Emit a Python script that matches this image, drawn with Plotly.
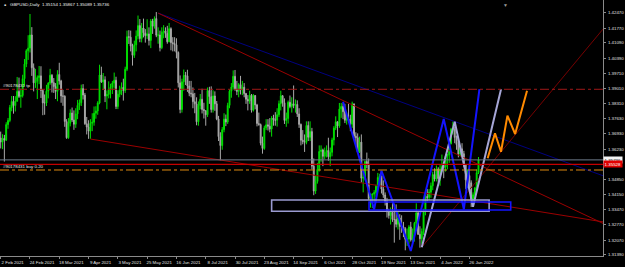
import plotly.graph_objects as go

# ---------------- data (GBPUSD daily, bar index 0 = 2 Feb 2021) ----------------
closes = [
    1.3655, 1.3672, 1.3664, 1.3735, 1.3754, 1.3813, 1.3841, 1.3822, 1.3842, 1.3887,
    1.3864, 1.3868, 1.3945, 1.4012, 1.4073, 1.4085, 1.4145, 1.3995, 1.3926, 1.3933,
    1.3950, 1.3958, 1.3891, 1.3834, 1.3834, 1.3888, 1.3925, 1.3961, 1.3927, 1.3909,
    1.3887, 1.3964, 1.3935, 1.3866, 1.3865, 1.3749, 1.3675, 1.3741, 1.3788, 1.3756,
    1.3737, 1.3784, 1.3823, 1.3835, 1.3900, 1.3870, 1.3739, 1.3724, 1.3705, 1.3741,
    1.3746, 1.3787, 1.3797, 1.3834, 1.3962, 1.3930, 1.3940, 1.3866, 1.3873, 1.3898,
    1.3906, 1.3925, 1.3938, 1.3818, 1.3874, 1.3894, 1.3905, 1.3891, 1.3988, 1.4137,
    1.4135, 1.4094, 1.4052, 1.4100, 1.4140, 1.4188, 1.4129, 1.4177, 1.4155, 1.4142,
    1.4150, 1.4120, 1.4209, 1.4185, 1.4220, 1.4144, 1.4145, 1.4087, 1.4158, 1.4163,
    1.4152, 1.4114, 1.4174, 1.4110, 1.4106, 1.4100, 1.4065, 1.3926, 1.3804, 1.3931,
    1.3960, 1.3958, 1.3912, 1.3879, 1.3876, 1.3840, 1.3830, 1.3748, 1.3823, 1.3851,
    1.3804, 1.3799, 1.3780, 1.3891, 1.3863, 1.3804, 1.3866, 1.3830, 1.3761, 1.3680,
    1.3639, 1.3712, 1.3760, 1.3747, 1.3823, 1.3888, 1.3907, 1.3956, 1.3897, 1.3887,
    1.3918, 1.3893, 1.3906, 1.3877, 1.3851, 1.3843, 1.3869, 1.3801, 1.3868, 1.3825,
    1.3740, 1.3735, 1.3650, 1.3626, 1.3720, 1.3734, 1.3728, 1.3715, 1.3765, 1.3757,
    1.3755, 1.3780, 1.3831, 1.3867, 1.3835, 1.3754, 1.3763, 1.3837, 1.3818, 1.3830,
    1.3823, 1.3827, 1.3784, 1.3736, 1.3664, 1.3658, 1.3654, 1.3731, 1.3677, 1.3703,
    1.3545, 1.3431, 1.3475, 1.3530, 1.3612, 1.3619, 1.3590, 1.3609, 1.3617, 1.3588,
    1.3608, 1.3665, 1.3719, 1.3748, 1.3729, 1.3806, 1.3818, 1.3794, 1.3755, 1.3761,
    1.3760, 1.3737, 1.3830, 1.3682, 1.3675, 1.3611, 1.3655, 1.3490, 1.3494, 1.3566,
    1.3554, 1.3397, 1.3412, 1.3418, 1.3424, 1.3453, 1.3493, 1.3500, 1.3440, 1.3413,
    1.3383, 1.3337, 1.3319, 1.3334, 1.3301, 1.3301, 1.3279, 1.3308, 1.3269, 1.3267,
    1.3259, 1.3210, 1.3212, 1.3267, 1.3208, 1.3233, 1.3284, 1.3331, 1.3233, 1.3213,
    1.3246, 1.3339, 1.3406, 1.3402, 1.3426, 1.3455, 1.3507, 1.3486, 1.3532, 1.3488,
    1.3532, 1.3544, 1.3540, 1.3590, 1.3597, 1.3647, 1.3714, 1.3714, 1.3676, 1.3644,
    1.3600, 1.3624, 1.3602, 1.3552, 1.3482, 1.3502, 1.3469, 1.3390, 1.3414, 1.3445,
    1.3515, 1.35736,
]
# each day opens at the previous day's close (last bar from the header)
opens = [1.3674] + closes[:-2] + [1.35154]
highs = [
    1.3703, 1.3691, 1.3688, 1.3746, 1.3765, 1.3825, 1.3866, 1.3866, 1.3865, 1.3953,
    1.3950, 1.3900, 1.3963, 1.4035, 1.4080, 1.4144, 1.4241, 1.4181, 1.4015, 1.3990,
    1.3960, 1.4003, 1.4002, 1.3898, 1.3873, 1.3917, 1.3929, 1.3990, 1.3966, 1.3948,
    1.3925, 1.3984, 1.4018, 1.3940, 1.3894, 1.3869, 1.3760, 1.3765, 1.3805, 1.3813,
    1.3800, 1.3810, 1.3848, 1.3850, 1.3918, 1.3920, 1.3880, 1.3770, 1.3755, 1.3760,
    1.3787, 1.3818, 1.3819, 1.3842, 1.4009, 1.4000, 1.3971, 1.3956, 1.3891, 1.3933,
    1.3922, 1.3935, 1.3973, 1.3954, 1.3892, 1.3913, 1.3928, 1.3945, 1.4000, 1.4165,
    1.4167, 1.4165, 1.4105, 1.4119, 1.4166, 1.4234, 1.4218, 1.4200, 1.4220, 1.4172,
    1.4217, 1.4180, 1.4218, 1.4219, 1.4230, 1.4250, 1.4180, 1.4165, 1.4180, 1.4190,
    1.4180, 1.4187, 1.4200, 1.4180, 1.4135, 1.4135, 1.4130, 1.4070, 1.3960, 1.3945,
    1.3987, 1.3976, 1.3986, 1.3935, 1.3935, 1.3905, 1.3880, 1.3860, 1.3841, 1.3875,
    1.3899, 1.3835, 1.3800, 1.3905, 1.3908, 1.3910, 1.3892, 1.3887, 1.3843, 1.3775,
    1.3700, 1.3724, 1.3787, 1.3781, 1.3835, 1.3896, 1.3925, 1.3983, 1.3985, 1.3935,
    1.3925, 1.3958, 1.3935, 1.3925, 1.3880, 1.3870, 1.3890, 1.3875, 1.3875, 1.3870,
    1.3830, 1.3790, 1.3740, 1.3680, 1.3730, 1.3760, 1.3760, 1.3765, 1.3774, 1.3780,
    1.3792, 1.3810, 1.3845, 1.3890, 1.3870, 1.3855, 1.3790, 1.3845, 1.3868, 1.3860,
    1.3914, 1.3850, 1.3846, 1.3810, 1.3740, 1.3710, 1.3690, 1.3750, 1.3750, 1.3750,
    1.3720, 1.3580, 1.3500, 1.3560, 1.3640, 1.3640, 1.3625, 1.3630, 1.3640, 1.3675,
    1.3630, 1.3675, 1.3728, 1.3773, 1.3750, 1.3834, 1.3834, 1.3832, 1.3830, 1.3790,
    1.3830, 1.3780, 1.3840, 1.3830, 1.3700, 1.3695, 1.3680, 1.3690, 1.3515, 1.3570,
    1.3607, 1.3580, 1.3420, 1.3420, 1.3435, 1.3460, 1.3514, 1.3510, 1.3500, 1.3480,
    1.3425, 1.3400, 1.3350, 1.3356, 1.3375, 1.3373, 1.3370, 1.3335, 1.3325, 1.3320,
    1.3290, 1.3266, 1.3260, 1.3275, 1.3290, 1.3260, 1.3290, 1.3375, 1.3340, 1.3270,
    1.3260, 1.3350, 1.3415, 1.3440, 1.3440, 1.3470, 1.3520, 1.3535, 1.3548, 1.3540,
    1.3555, 1.3598, 1.3560, 1.3600, 1.3600, 1.3655, 1.3720, 1.3749, 1.3725, 1.3685,
    1.3655, 1.3640, 1.3650, 1.3615, 1.3555, 1.3530, 1.3535, 1.3480, 1.3425, 1.3450,
    1.3530, 1.35867,
]
lows = [
    1.3626, 1.3623, 1.3566, 1.3660, 1.3716, 1.3746, 1.3796, 1.3785, 1.3795, 1.3840,
    1.3857, 1.3812, 1.3859, 1.3910, 1.3998, 1.4031, 1.4065, 1.3958, 1.3887, 1.3903,
    1.3852, 1.3920, 1.3857, 1.3778, 1.3780, 1.3820, 1.3855, 1.3917, 1.3882, 1.3880,
    1.3852, 1.3842, 1.3918, 1.3835, 1.3821, 1.3725, 1.3670, 1.3670, 1.3727, 1.3747,
    1.3711, 1.3720, 1.3760, 1.3802, 1.3820, 1.3850, 1.3734, 1.3690, 1.3670, 1.3670,
    1.3705, 1.3730, 1.3762, 1.3780, 1.3828, 1.3926, 1.3894, 1.3838, 1.3805, 1.3855,
    1.3855, 1.3875, 1.3900, 1.3806, 1.3806, 1.3860, 1.3870, 1.3845, 1.3880, 1.3980,
    1.4104, 1.4070, 1.4005, 1.4040, 1.4070, 1.4125, 1.4112, 1.4111, 1.4134, 1.4110,
    1.4127, 1.4097, 1.4085, 1.4150, 1.4174, 1.4135, 1.4105, 1.4070, 1.4080, 1.4130,
    1.4132, 1.4105, 1.4112, 1.4075, 1.4070, 1.4070, 1.4038, 1.3905, 1.3787, 1.3790,
    1.3890, 1.3916, 1.3885, 1.3865, 1.3860, 1.3810, 1.3787, 1.3732, 1.3730, 1.3805,
    1.3786, 1.3763, 1.3730, 1.3770, 1.3830, 1.3790, 1.3790, 1.3798, 1.3755, 1.3660,
    1.3572, 1.3620, 1.3700, 1.3728, 1.3738, 1.3810, 1.3858, 1.3895, 1.3890, 1.3870,
    1.3860, 1.3873, 1.3870, 1.3860, 1.3830, 1.3800, 1.3830, 1.3790, 1.3795, 1.3805,
    1.3727, 1.3730, 1.3640, 1.3602, 1.3620, 1.3710, 1.3708, 1.3700, 1.3680, 1.3730,
    1.3730, 1.3726, 1.3770, 1.3800, 1.3817, 1.3738, 1.3725, 1.3740, 1.3810, 1.3790,
    1.3810, 1.3790, 1.3770, 1.3720, 1.3640, 1.3645, 1.3610, 1.3645, 1.3660, 1.3660,
    1.3530, 1.3412, 1.3418, 1.3465, 1.3520, 1.3565, 1.3545, 1.3577, 1.3585, 1.3570,
    1.3545, 1.3590, 1.3640, 1.3710, 1.3678, 1.3720, 1.3766, 1.3760, 1.3742, 1.3735,
    1.3745, 1.3705, 1.3720, 1.3672, 1.3635, 1.3606, 1.3605, 1.3470, 1.3425, 1.3480,
    1.3535, 1.3390, 1.3355, 1.3353, 1.3380, 1.3405, 1.3440, 1.3455, 1.3420, 1.3400,
    1.3365, 1.3310, 1.3305, 1.3278, 1.3290, 1.3195, 1.3265, 1.3255, 1.3208, 1.3240,
    1.3220, 1.3160, 1.3180, 1.3190, 1.3200, 1.3190, 1.3200, 1.3250, 1.3230, 1.3172,
    1.3190, 1.3230, 1.3320, 1.3385, 1.3390, 1.3400, 1.3435, 1.3475, 1.3475, 1.3470,
    1.3455, 1.3520, 1.3490, 1.3520, 1.3530, 1.3560, 1.3645, 1.3690, 1.3650, 1.3620,
    1.3585, 1.3590, 1.3590, 1.3540, 1.3440, 1.3445, 1.3435, 1.3358, 1.3366, 1.3380,
    1.3430, 1.35089,
]
bars = list(range(len(closes)))

x_tick_bars = [0, 16, 32, 48, 64, 80, 96, 112, 128, 144, 160, 176, 192, 208, 224, 240, 256]
x_tick_text = ["2 Feb 2021", "24 Feb 2021", "18 Mar 2021", "9 Apr 2021", "3 May 2021",
               "25 May 2021", "16 Jun 2021", "8 Jul 2021", "30 Jul 2021", "23 Aug 2021",
               "14 Sep 2021", "6 Oct 2021", "28 Oct 2021", "19 Nov 2021", "13 Dec 2021",
               "4 Jan 2022", "26 Jan 2022"]
y_tick_vals = [1.42470, 1.41770, 1.41090, 1.40390, 1.39710, 1.39010, 1.38310, 1.37630,
               1.36930, 1.36230, 1.34850, 1.34150, 1.33470, 1.32770, 1.32070, 1.31390]

# drawn objects (bar index, price)
trend_red_x, trend_red_y = [86, 329.0], [1.4245, 1.3283]
trend_navy_x, trend_navy_y = [86, 329.0], [1.4245, 1.3501]
trend_low_x, trend_low_y = [49, 329.0], [1.3669, 1.3290]
trend_up_x, trend_up_y = [230, 329.0], [1.3174, 1.4172]
blue_x = [187, 204, 208, 224, 242, 253, 261.5]
blue_y = [1.3840, 1.3348, 1.3524, 1.3157, 1.3761, 1.3348, 1.3897]
lav_x = [230, 248, 258, 273.3]
lav_y = [1.3174, 1.3748, 1.3359, 1.3897]
orange_x = [266, 270, 273.3, 276.8, 281, 287.5]
orange_y = [1.3581, 1.3695, 1.3611, 1.3776, 1.3692, 1.3890]
rect_lav = [148.0, 266.8, 1.33384, 1.33901]
rect_blue = [201.2, 278.6, 1.33444, 1.33810]
bid_price = 1.35736
hline_price = 1.35528
buy_price = 1.35274
tp_price = 1.38966
shift_marker_bar = 275.5
header = "GBPUSD,Daily  1.35154 1.35867 1.35089 1.35736"
ticket = "#90178431"

X_RANGE = [-0.38, 329.0]
Y_RANGE = [1.31339, 1.43051]
FONT = "Liberation Sans"
FS = 4.4

fig = go.Figure()
fig.add_trace(go.Candlestick(
    x=bars, open=opens, high=highs, low=lows, close=closes,
    increasing=dict(line=dict(color="#00e000", width=1), fillcolor="#00e000"),
    decreasing=dict(line=dict(color="#a8a8a8", width=1), fillcolor="#a8a8a8"),
    whiskerwidth=0, hoverinfo="skip", showlegend=False,
))

def line(x, y, color, width, dash="solid"):
    fig.add_trace(go.Scatter(x=x, y=y, mode="lines", hoverinfo="skip", showlegend=False,
                             line=dict(color=color, width=width, dash=dash)))

line(trend_navy_x, trend_navy_y, "#000080", 1)
line(trend_red_x, trend_red_y, "#9b0000", 1)
line(trend_low_x, trend_low_y, "#9b0000", 1)
line(trend_up_x, trend_up_y, "#760000", 1)
line(lav_x, lav_y, "#a6a6d6", 2)
line(blue_x, blue_y, "#1414ff", 2)
line(orange_x, orange_y, "#ff8a00", 2)

shapes = [
    dict(type="rect", xref="x", yref="y", x0=rect_lav[0], x1=rect_lav[1], y0=rect_lav[2], y1=rect_lav[3],
         line=dict(color="#9a9ad0", width=1.6), fillcolor="rgba(0,0,0,0)", layer="above"),
    dict(type="rect", xref="x", yref="y", x0=rect_blue[0], x1=rect_blue[1], y0=rect_blue[2], y1=rect_blue[3],
         line=dict(color="#1414ff", width=1.6), fillcolor="rgba(0,0,0,0)", layer="above"),
    dict(type="line", xref="paper", yref="y", x0=0, x1=1, y0=bid_price, y1=bid_price,
         line=dict(color="#6d7b8a", width=1), layer="above"),
    dict(type="line", xref="paper", yref="y", x0=0, x1=1, y0=hline_price, y1=hline_price,
         line=dict(color="#c40000", width=1.3), layer="above"),
    dict(type="line", xref="paper", yref="y", x0=0, x1=1, y0=buy_price, y1=buy_price,
         line=dict(color="#e08a10", width=1, dash="dashdot"), layer="above"),
    dict(type="line", xref="paper", yref="y", x0=0, x1=1, y0=tp_price, y1=tp_price,
         line=dict(color="#a01818", width=1, dash="dashdot"), layer="above"),
]

annotations = [
    dict(xref="paper", yref="paper", x=0.004, y=0.982, xanchor="left", yanchor="middle",
         text="\u25aa", showarrow=False, font=dict(family=FONT, size=6, color="#e8e8e8")),
    dict(xref="paper", yref="paper", x=0.013, y=0.982, xanchor="left", yanchor="middle",
         text=header, showarrow=False, font=dict(family=FONT, size=FS, color="#f0f0f0")),
    dict(xref="x", yref="paper", x=shift_marker_bar, y=1.0, xanchor="center", yanchor="top",
         text="\u25bc", showarrow=False, font=dict(family=FONT, size=5, color="#9a9a9a")),
    dict(xref="paper", yref="y", x=0.004, y=tp_price, xanchor="left", yanchor="bottom",
         text=ticket + " tp", showarrow=False, font=dict(family=FONT, size=FS, color="#e8e8e8"),
         borderpad=0),
    dict(xref="paper", yref="y", x=0.004, y=buy_price, xanchor="left", yanchor="bottom",
         text=ticket + " buy 0.20", showarrow=False, font=dict(family=FONT, size=FS, color="#e8e8e8"),
         borderpad=0),
    dict(xref="paper", yref="y", x=1.0, y=bid_price, xanchor="left", yanchor="middle",
         text=f"{bid_price:.5f}", showarrow=False, bgcolor="#f4f4f4", borderpad=0.6,
         font=dict(family=FONT, size=FS, color="#000000")),
    dict(xref="paper", yref="y", x=1.0, y=hline_price, xanchor="left", yanchor="middle",
         text=f"{hline_price:.5f}", showarrow=False, bgcolor="#e00000", borderpad=0.6,
         font=dict(family=FONT, size=FS, color="#ffffff")),
]

fig.update_layout(
    width=625, height=267,
    margin=dict(l=0, r=22, t=0, b=11, autoexpand=False),
    paper_bgcolor="#000000", plot_bgcolor="#000000",
    showlegend=False, shapes=shapes, annotations=annotations,
    xaxis=dict(range=X_RANGE, tickmode="array", tickvals=x_tick_bars, ticktext=x_tick_text,
               ticks="outside", ticklen=2, tickcolor="#8a8a8a", showline=True, linecolor="#8a8a8a",
               linewidth=1, showgrid=False, zeroline=False, rangeslider=dict(visible=False),
               tickfont=dict(family=FONT, size=FS, color="#e0e0e0"), ticklabelshift=12,
               ticklabelstandoff=0, fixedrange=True),
    yaxis=dict(range=Y_RANGE, side="right", tickmode="array", tickvals=y_tick_vals,
               ticktext=[f"{v:.5f}" for v in y_tick_vals], ticks="outside", ticklen=2,
               tickcolor="#8a8a8a", showline=True, linecolor="#8a8a8a", linewidth=1, mirror=True,
               showgrid=False, zeroline=False, ticklabelstandoff=1,
               tickfont=dict(family=FONT, size=FS, color="#e0e0e0"), fixedrange=True),
)

fig.write_html("out.html", config={"displayModeBar": False, "staticPlot": True})
